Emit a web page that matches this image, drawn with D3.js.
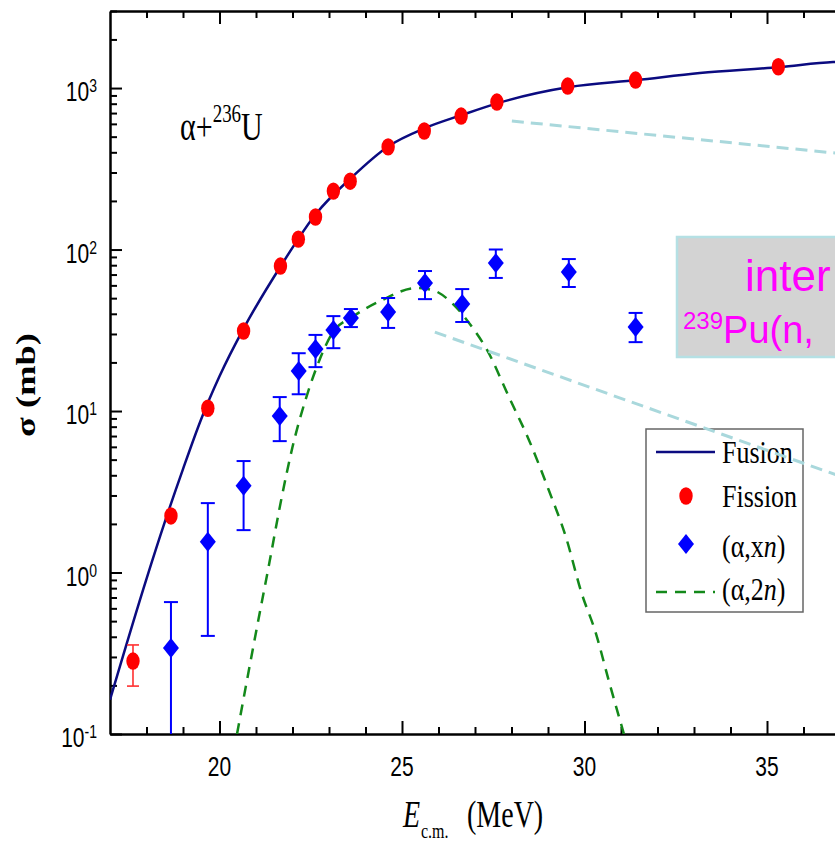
<!DOCTYPE html>
<html>
<head>
<meta charset="utf-8">
<script src="https://cdn.jsdelivr.net/npm/d3@7"></script>
<style>
  body { margin: 0; background: #fff; }
  svg { display: block; overflow: hidden; }
  .sans { font-family: "Liberation Sans", Arial, sans-serif; }
  .serif { font-family: "Liberation Serif", "Times New Roman", serif; }
</style>
</head>
<body>
<div id="chart"></div>
<script>
// alpha + 236U cross sections

// fusion (theory, solid line)
var fusionE     = [17.0, 18.0, 18.5, 19.0, 19.5, 20.0, 20.67, 21.68, 22.64, 23.60, 24.64, 25.63, 26.64, 27.63, 29.58, 31.44, 33.16, 35.36, 36.81, 37.0];
var fusionSigma = [0.163, 0.914, 2.05, 4.37, 8.93, 16.4, 32.7, 79.1, 166, 277, 438, 565, 681, 807, 1014, 1121, 1239, 1349, 1449, 1455];

// fission (red points)
var fissionE     = [17.63, 18.67, 19.68, 20.66, 21.67, 22.16, 22.63, 23.12, 23.58, 24.62, 25.61, 26.62, 27.60, 29.54, 31.40, 35.31];
var fissionSigma = [0.283, 2.24, 10.4, 31.3, 79, 116, 159, 230, 265, 432, 542, 671, 819, 1029, 1121, 1355];
var fissionLo    = [0.198, null, null, null, null, null, null, null, null, null, null, null, null, null, null, null];
var fissionHi    = [0.356, null, null, null, null, null, null, null, null, null, null, null, null, null, null, null];

// (alpha,xn) (blue diamonds)
var xnE     = [18.67, 19.68, 20.66, 21.65, 22.17, 22.63, 23.12, 23.60, 24.62, 25.63, 26.65, 27.57, 29.57, 31.40];
var xnSigma = [0.341, 1.55, 3.44, 9.31, 17.7, 24.2, 31.8, 37.7, 41.0, 62.1, 46.0, 82.4, 72.6, 33.1];
var xnLo    = [0.01, 0.405, 1.83, 6.51, 12.7, 18.7, 24.5, 33.1, 32.7, 49.3, 35.6, 66.7, 58.6, 26.7];
var xnHi    = [0.656, 2.69, 4.9, 12.2, 22.8, 29.6, 38.7, 42.8, 50.1, 73.6, 56.9, 100, 87.3, 40.5];

// (alpha,2n) (theory, green dashed)
var twoNE     = [20.48, 20.96, 21.37, 21.70, 22.00, 22.38, 22.74, 23.09, 23.64, 24.46, 25.39, 25.83, 26.37, 26.92, 27.33, 27.93, 28.48, 29.02, 29.49, 29.92, 30.31, 30.66, 31.08];
var twoNSigma = [0.1, 0.382, 1.16, 2.89, 5.98, 12.2, 20.7, 30.4, 38.2, 48.7, 57.8, 56.2, 46.6, 33.1, 23.9, 12.2, 6.6, 3.24, 1.66, 0.746, 0.422, 0.216, 0.1];

// ticks
var xMajor = [20, 25, 30, 35];
var xMinor = [18, 19, 21, 22, 23, 24, 26, 27, 28, 29, 31, 32, 33, 34, 36, 37, 38];
var yMajor = [0.1, 1, 10, 100, 1000];
var yExponents = ['-1', '0', '1', '2', '3'];

// grey call-out lines, ends given as [E, sigma]
var callouts = [
  [[28.01, 625], [38.5, 364]],
  [[25.90, 30.8], [38.5, 2.99]]
];

var legendLabels = ['Fusion', 'Fission', '(\u03b1,x', '(\u03b1,2'];

var width = 835, height = 843;
var SY = 1.35; // the original figure is stretched vertically

var x = d3.scaleLinear().domain([17, 38.5]).range([110, 894.75]);
var y = d3.scaleLog().domain([0.1, 3000]).range([734, 11]);

var svg = d3.select('#chart').append('svg')
  .attr('width', width)
  .attr('height', height);

svg.append('defs').append('clipPath').attr('id', 'plot-clip')
  .append('rect')
  .attr('x', x(17)).attr('y', y(3000))
  .attr('width', x(38.5) - x(17)).attr('height', y(0.1) - y(3000));

var stretched = function(parent, px, py, sy) {
  return parent.append('g')
    .attr('transform', 'translate(' + px + ',' + py + ') scale(1,' + sy + ')')
    .append('text');
};

// ---- axes ----
var styleAxis = function(g, width) {
  g.selectAll('.tick line').attr('stroke', '#000').attr('stroke-width', 2);
  g.select('.domain').attr('stroke', '#000').attr('stroke-width', width);
};

var yMinor = [];
[-1, 0, 1, 2, 3].forEach(function(d) {
  for (var k = 2; k <= 9; k++) {
    var v = k * Math.pow(10, d);
    if (v <= 3000) yMinor.push(v);
  }
});

svg.append('g').attr('transform', 'translate(0,' + y(0.1) + ')')
  .call(d3.axisBottom(x).tickValues(xMinor).tickSize(-7).tickSizeOuter(0).tickFormat(''))
  .call(function(g) { styleAxis(g, 0); g.select('.domain').remove(); });
svg.append('g').attr('transform', 'translate(0,' + y(0.1) + ')')
  .call(d3.axisBottom(x).tickValues(xMajor).tickSize(-13).tickSizeOuter(0).tickFormat(''))
  .call(function(g) { styleAxis(g, 2.5); });

svg.append('g').attr('transform', 'translate(0,' + y(3000) + ')')
  .call(d3.axisTop(x).tickValues(xMinor).tickSize(-7).tickSizeOuter(0).tickFormat(''))
  .call(function(g) { styleAxis(g, 0); g.select('.domain').remove(); });
svg.append('g').attr('transform', 'translate(0,' + y(3000) + ')')
  .call(d3.axisTop(x).tickValues(xMajor).tickSize(-13).tickSizeOuter(0).tickFormat(''))
  .call(function(g) { styleAxis(g, 2.5); });

svg.append('g').attr('transform', 'translate(' + x(17) + ',0)')
  .call(d3.axisLeft(y).tickValues(yMinor).tickSize(-7).tickSizeOuter(0).tickFormat(''))
  .call(function(g) { styleAxis(g, 0); g.select('.domain').remove(); });
svg.append('g').attr('transform', 'translate(' + x(17) + ',0)')
  .call(d3.axisLeft(y).tickValues(yMajor).tickSize(-12).tickSizeOuter(0).tickFormat(''))
  .call(function(g) { styleAxis(g, 2.5); });

// tick labels
yMajor.forEach(function(v, i) {
  var t = stretched(svg, 97, y(v) + 13, SY)
    .attr('class', 'sans').attr('text-anchor', 'end')
    .style('font-size', '21px');
  t.append('tspan').text('10');
  t.append('tspan').attr('dy', -9 / SY).style('font-size', '14px').text(yExponents[i]);
});

xMajor.forEach(function(v) {
  stretched(svg, x(v), 776, SY)
    .attr('class', 'sans').attr('text-anchor', 'middle')
    .style('font-size', '21px')
    .text(v);
});

// axis titles
stretched(svg, 403, 827, SY).attr('class', 'serif')
  .style('font-size', '28px').style('font-style', 'italic').text('E');
stretched(svg, 421, 838, SY).attr('class', 'serif')
  .style('font-size', '16px').text('c.m.');
stretched(svg, 467, 827, SY).attr('class', 'serif')
  .style('font-size', '28px').text('(MeV)');

svg.append('g')
  .attr('transform', 'translate(35,385) scale(1,' + SY + ') rotate(-90)')
  .append('text')
  .attr('class', 'serif').attr('text-anchor', 'middle')
  .style('font-size', '27px').style('font-weight', 'bold')
  .text('\u03c3 (mb)');

// reaction label
var reaction = stretched(svg, 180, 140, SY).attr('class', 'serif').style('font-size', '30px');
reaction.append('tspan').text('\u03b1+');
reaction.append('tspan').attr('dy', -18 / SY).style('font-size', '19px').text('236');
reaction.append('tspan').attr('dy', 18 / SY).text('U');

// ---- curves ----
var plot = svg.append('g').attr('clip-path', 'url(#plot-clip)');

var line = d3.line()
  .x(function(d) { return x(d[0]); })
  .y(function(d) { return y(d[1]); })
  .curve(d3.curveMonotoneX);

plot.append('path')
  .datum(d3.zip(fusionE, fusionSigma))
  .attr('d', line)
  .attr('fill', 'none')
  .attr('stroke', '#0b0b80')
  .attr('stroke-width', 2.5);

plot.append('path')
  .datum(d3.zip(twoNE, twoNSigma))
  .attr('d', line)
  .attr('fill', 'none')
  .attr('stroke', '#13891a')
  .attr('stroke-width', 2.5)
  .attr('stroke-dasharray', '11,8');

// ---- error bars ----
var errorBars = function(es, lo, hi, color, lineWidth, cap) {
  es.forEach(function(e, i) {
    if (lo[i] == null) return;
    var px = x(e);
    plot.append('line')
      .attr('x1', px).attr('x2', px)
      .attr('y1', y(Math.max(lo[i], 0.01))).attr('y2', y(hi[i]))
      .attr('stroke', color).attr('stroke-width', lineWidth);
    [lo[i], hi[i]].forEach(function(v) {
      plot.append('line')
        .attr('x1', px - cap).attr('x2', px + cap)
        .attr('y1', y(v)).attr('y2', y(v))
        .attr('stroke', color).attr('stroke-width', lineWidth);
    });
  });
};

errorBars(fissionE, fissionLo, fissionHi, '#ff3030', 1.6, 6);
errorBars(xnE, xnLo, xnHi, '#0000ff', 2, 7);

var diamond = function(px, py) {
  return 'M' + px + ',' + (py - 10) + 'L' + (px + 8) + ',' + py +
    'L' + px + ',' + (py + 10) + 'L' + (px - 8) + ',' + py + 'Z';
};

plot.selectAll('.xn').data(d3.zip(xnE, xnSigma)).enter().append('path')
  .attr('class', 'xn')
  .attr('d', function(d) { return diamond(x(d[0]), y(d[1])); })
  .attr('fill', '#0000ff');

plot.selectAll('.fission').data(d3.zip(fissionE, fissionSigma)).enter().append('ellipse')
  .attr('class', 'fission')
  .attr('cx', function(d) { return x(d[0]); })
  .attr('cy', function(d) { return y(d[1]); })
  .attr('rx', 6.7).attr('ry', 8.7)
  .attr('fill', '#ff0000');

// ---- legend ----
var legend = svg.append('g');
legend.append('rect')
  .attr('x', 646).attr('y', 429).attr('width', 157).attr('height', 183)
  .attr('fill', '#fff').attr('stroke', '#666').attr('stroke-width', 1.5);

legend.append('line').attr('x1', 656).attr('x2', 715).attr('y1', 452).attr('y2', 452)
  .attr('stroke', '#0b0b80').attr('stroke-width', 2.5);
legend.append('ellipse').attr('cx', 686).attr('cy', 496).attr('rx', 6.7).attr('ry', 8.7)
  .attr('fill', '#ff0000');
legend.append('path').attr('d', diamond(686, 544)).attr('fill', '#0000ff');
legend.append('line').attr('x1', 656).attr('x2', 715).attr('y1', 592).attr('y2', 592)
  .attr('stroke', '#13891a').attr('stroke-width', 2.5).attr('stroke-dasharray', '11,8');

var legendY = [463, 507, 557, 600];
legendLabels.forEach(function(label, i) {
  var t = stretched(legend, 722, legendY[i], 1.18).attr('class', 'serif').style('font-size', '26px');
  t.append('tspan').text(label);
  if (i >= 2) {
    t.append('tspan').style('font-style', 'italic').text('n');
    t.append('tspan').text(')');
  }
});

// ---- highlighted note (runs off the right edge of the figure) ----
svg.append('rect')
  .attr('x', 677).attr('y', 237).attr('width', 240).attr('height', 120)
  .attr('fill', '#d3d3d3').attr('stroke', '#b5e0e4').attr('stroke-width', 2.5);
svg.append('text').attr('class', 'sans')
  .attr('x', 745).attr('y', 291)
  .style('font-size', '44px').attr('fill', '#ff00ff')
  .text('inter');
var note = svg.append('text').attr('class', 'sans')
  .attr('x', 683).attr('y', 343)
  .style('font-size', '38px').attr('fill', '#ff00ff');
note.append('tspan').attr('dy', -14).style('font-size', '24px').text('239');
note.append('tspan').attr('dy', 14).text('Pu(n,');

// ---- call-out lines ----
callouts.forEach(function(c) {
  svg.append('line')
    .attr('x1', x(c[0][0])).attr('y1', y(c[0][1]))
    .attr('x2', x(c[1][0])).attr('y2', y(c[1][1]))
    .attr('stroke', '#a9d8dc').attr('stroke-width', 3)
    .attr('stroke-dasharray', '12,7');
});
</script>
</body>
</html>
